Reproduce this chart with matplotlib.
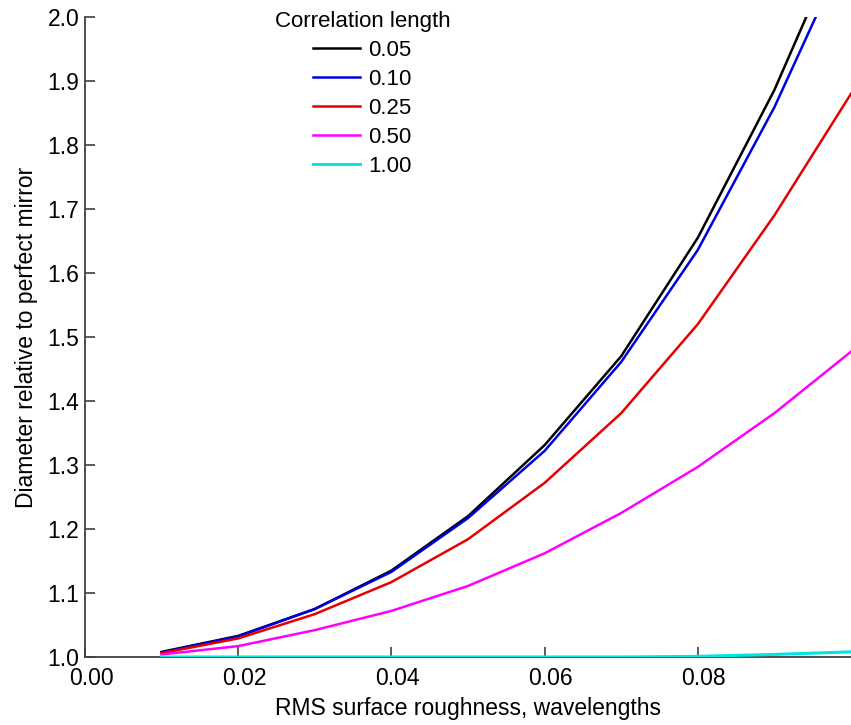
import matplotlib
matplotlib.use('Agg')
import matplotlib.pyplot as plt
import matplotlib.transforms as mtransforms
import numpy as np

plt.rcParams['font.family'] = ['Liberation Sans', 'DejaVu Sans']

# RMS roughness in wavelengths
roughness = [0.01, 0.02, 0.03, 0.04, 0.05, 0.06, 0.07, 0.08, 0.09, 0.10]
corr_labels = ['0.05', '0.10', '0.25', '0.50', '1.00']
colors = ['#000000', '#0000e6', '#e60000', '#ff00ff', '#00e5e5']

d_005 = [1.008, 1.033, 1.075, 1.135, 1.220, 1.331, 1.470, 1.655, 1.886, 2.16]
d_010 = [1.007, 1.032, 1.075, 1.133, 1.217, 1.322, 1.461, 1.636, 1.859, 2.12]
d_025 = [1.006, 1.029, 1.067, 1.117, 1.184, 1.272, 1.381, 1.520, 1.690, 1.880]
d_050 = [1.004, 1.017, 1.042, 1.072, 1.111, 1.162, 1.225, 1.297, 1.381, 1.477]
d_100 = [1.000, 1.000, 1.000, 1.000, 1.000, 1.000, 1.000, 1.001, 1.004, 1.008]
series = [d_005, d_010, d_025, d_050, d_100]

xticks = [0.0, 0.02, 0.04, 0.06, 0.08]
xticklabels = ['0.00', '0.02', '0.04', '0.06', '0.08']
yticks = [1.0, 1.1, 1.2, 1.3, 1.4, 1.5, 1.6, 1.7, 1.8, 1.9, 2.0]

fig = plt.figure(figsize=(8.51, 7.25), dpi=100)
ax = fig.add_axes([0.0999, 0.0938, 0.9001, 0.8828])

for i, (y, lab, c) in enumerate(zip(series, corr_labels, colors)):
    ax.plot(roughness, y, color=c, lw=1.8 if i < 4 else 2.2, label=lab,
            zorder=3 + (i == 4))

ax.set_xlim(0, 0.1)
ax.set_ylim(1.0, 2.0)
ax.set_xticks(xticks)
ax.set_xticklabels(xticklabels)
ax.set_yticks(yticks)
ax.set_yticklabels(['%.1f' % v for v in yticks])

for s in ['top', 'right']:
    ax.spines[s].set_visible(False)
for s in ['left', 'bottom']:
    ax.spines[s].set_color('#404040')
    ax.spines[s].set_linewidth(1.3)
ax.tick_params(direction='in', length=7, width=1.2, color='#404040',
               labelsize=16.5)
ax.tick_params(axis='x', pad=7)
ax.tick_params(axis='y', pad=4)

# x tick labels sit a little right of their ticks in the original
off = mtransforms.ScaledTranslation(6 / 100, 0, fig.dpi_scale_trans)
for t in ax.get_xticklabels():
    t.set_transform(t.get_transform() + off)

ax.set_xlabel('RMS surface roughness, wavelengths', fontsize=16.5, labelpad=5)
ax.set_ylabel('Diameter relative to perfect mirror', fontsize=16.5, labelpad=7)

leg = ax.legend(title='Correlation length', frameon=False, fontsize=16,
                title_fontsize=16, loc='upper left',
                bbox_to_anchor=(0.236, 1.023), handlelength=2.1,
                labelspacing=0.36, handletextpad=0.4, borderaxespad=0)

fig.savefig('out.png', dpi=100)
